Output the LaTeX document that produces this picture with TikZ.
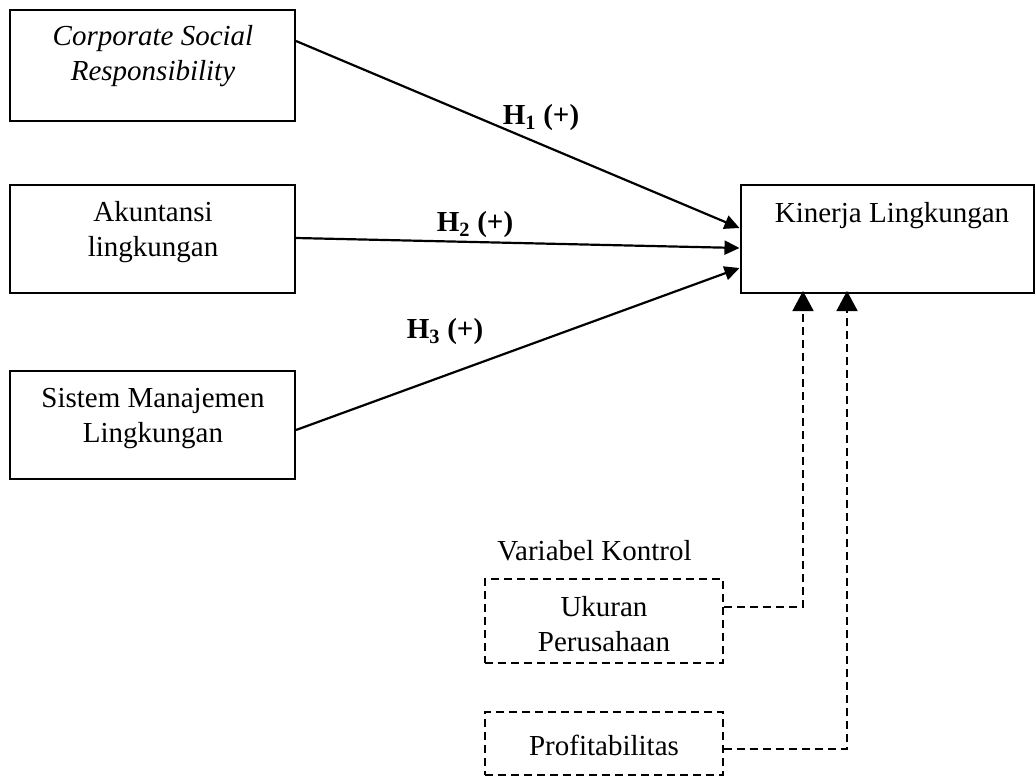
\documentclass[tikz,border=0pt]{standalone}
\usepackage{fontspec}
\setmainfont{Liberation Serif}
\usetikzlibrary{arrows.meta}
\begin{document}
\begin{tikzpicture}[x=1pt,y=-1pt,
  every node/.style={font=\fontsize{29}{35}\selectfont},
  box/.style={draw, line width=2pt, rectangle, inner sep=0pt},
  dbox/.style={draw, line width=1.7pt, dash pattern=on 8pt off 5pt, rectangle, inner sep=0pt},
  txt/.style={align=center, inner sep=0pt},
  hlab/.style={inner sep=0pt, font=\fontsize{29}{35}\selectfont\bfseries},
  arr/.style={line width=2.2pt, -{Triangle[length=15pt,width=14pt]}},
  darr/.style={line width=1.7pt, dash pattern=on 8pt off 5pt, -{Triangle[length=20pt,width=21pt]}}
]
\useasboundingbox (0,0) rectangle (1035,776);
% boxes
\node[box, minimum width=285pt, minimum height=111pt] (csr) at (152.5,65.5) {};
\node[box, minimum width=285pt, minimum height=108pt] (akt) at (152.5,239) {};
\node[box, minimum width=285pt, minimum height=108pt] (sml) at (152.5,425) {};
\node[box, minimum width=293pt, minimum height=108pt] (kin) at (887,239) {};
\node[dbox, minimum width=238pt, minimum height=84pt] (uk) at (604,621) {};
\node[dbox, minimum width=238pt, minimum height=63pt] (pr) at (604,743.5) {};
% texts
\node[txt] (csrT) at (153,56) {\itshape Corporate Social\\\itshape Responsibility};
\node[txt] (aktT) at (153,232) {Akuntansi\\lingkungan};
\node[txt] (smlT) at (153,419) {Sistem Manajemen\\Lingkungan};
\node[txt] (kinT) at (892,216) {Kinerja Lingkungan};
\node[txt] (ukT) at (604,624) {Ukuran\\Perusahaan};
\node[txt] (prT) at (604,745) {Profitabilitas};
\node[txt] (vk) at (594.5,551) {Variabel Kontrol};
% labels
\node[hlab] (h1) at (541,118) {H\textsubscript{1} (+)};
\node[hlab] (h2) at (475,225) {H\textsubscript{2} (+)};
\node[hlab] (h3) at (445,332) {H\textsubscript{3} (+)};
% connectors
\draw[arr] ([yshift=24.5pt]csr.east) -- ([yshift=11pt]kin.west);
\draw[arr] ([yshift=1pt]akt.east) -- ([yshift=-9pt]kin.west);
\draw[arr] ([yshift=-5pt]sml.east) -- ([yshift=-29pt]kin.west);
\draw[darr] ([yshift=14pt]uk.east) -| ([xshift=-84pt,yshift=3pt]kin.south);
\draw[darr] ([yshift=-5.5pt]pr.east) -| ([xshift=-40pt,yshift=3pt]kin.south);
\end{tikzpicture}
\end{document}
